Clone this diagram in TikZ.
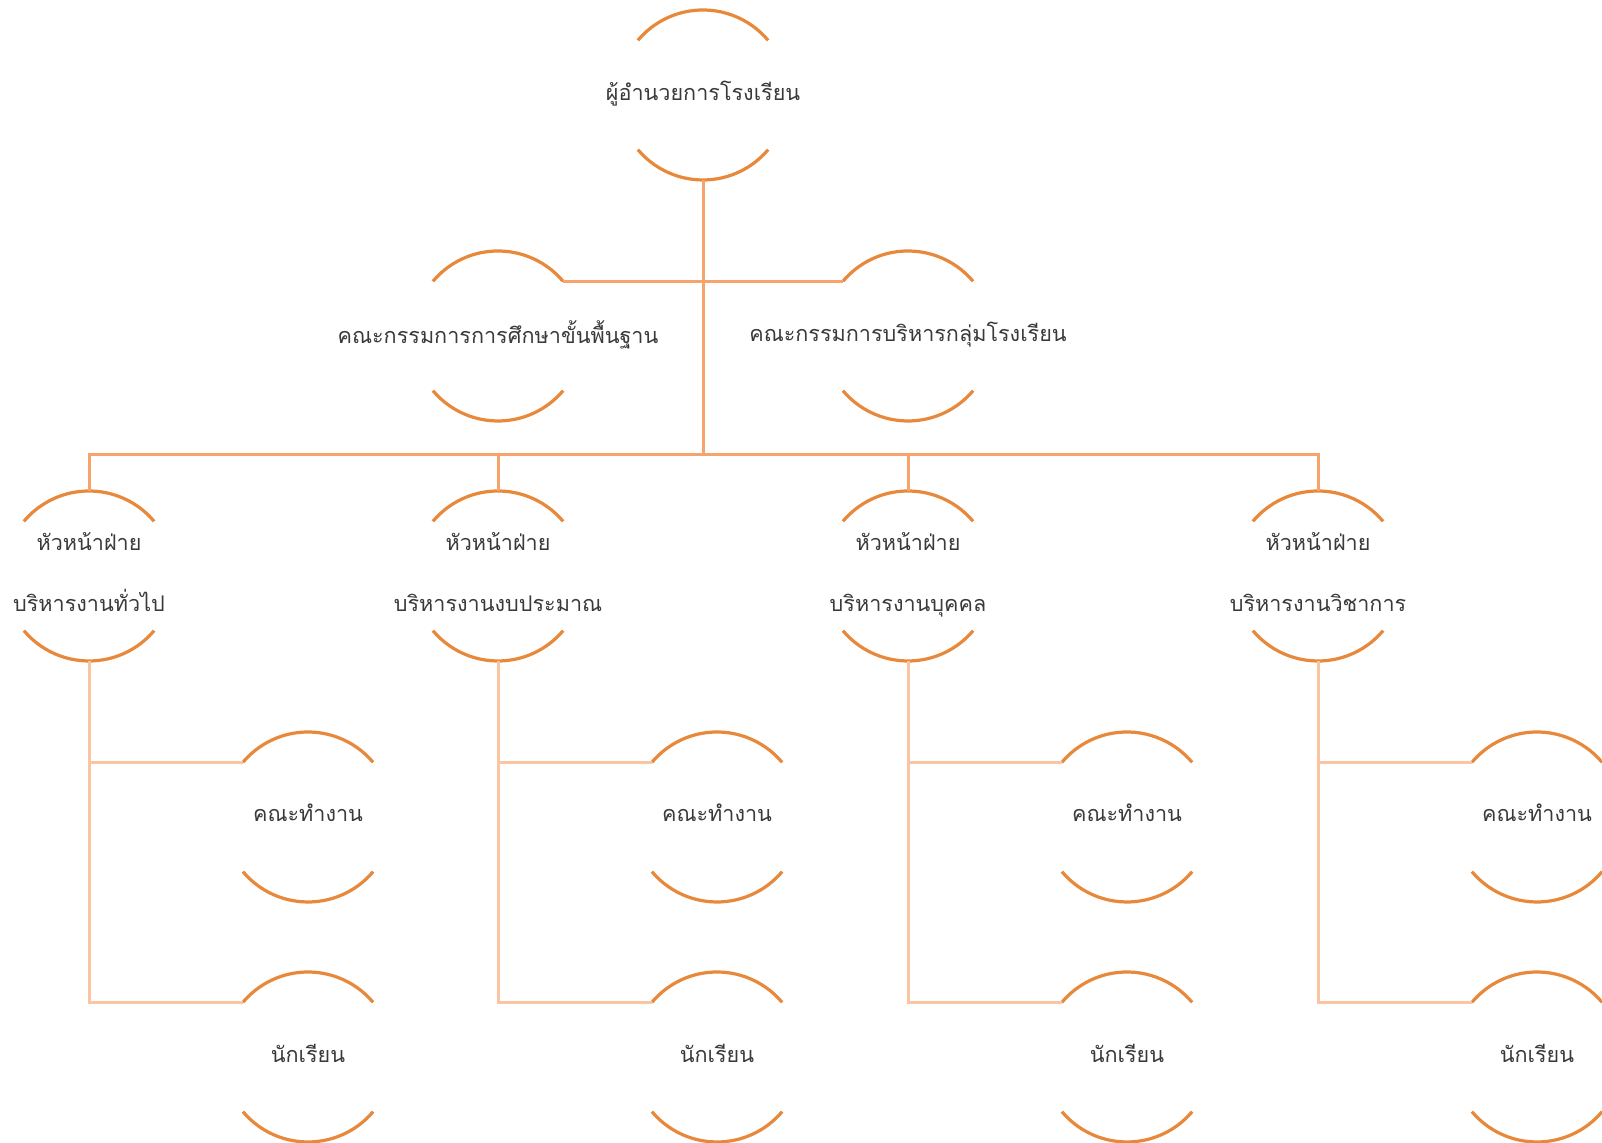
\documentclass[tikz,border=0pt]{standalone}
\usepackage{fontspec}
\newfontfamily\thaifont[Script=Thai]{Loma}
\definecolor{rimorange}{HTML}{E8883A}
\definecolor{linkorange}{HTML}{F6A46C}
\definecolor{linkpeach}{HTML}{FBC4A2}
\definecolor{captiongray}{HTML}{3A3A3A}
\newcommand{\nowide}[1]{\makebox[0pt]{\rule[-4pt]{0pt}{12pt}#1}}
\tikzset{
  unit/.style={circle, inner sep=0pt, outer sep=0pt, minimum size=85pt,
    align=center, text=captiongray, font=\thaifont\fontsize{10.8}{30.7}\selectfont},
  rim/.style={rimorange, line width=1.6pt},
  link/.style={linkorange, line width=1.5pt},
  sublink/.style={linkpeach, line width=1.5pt}
}
\begin{document}
\begin{tikzpicture}[x=0.5pt,y=0.5pt]
      \useasboundingbox (0,0) rectangle (1602,1143);
      \draw
        (703,1048) node[unit] (top){\nowide{ผู้อำนวยการโรงเรียน}}
        (498,807) node[unit] (c1){\nowide{คณะกรรมการการศึกษาขั้นพื้นฐาน}}
        (908,807) node[unit] (c2){\nowide{คณะกรรมการบริหารกลุ่มโรงเรียน}}
        (89,567) node[unit] (h1){\nowide{หัวหน้าฝ่าย}\\\nowide{บริหารงานทั่วไป}}
        (498,567) node[unit] (h2){\nowide{หัวหน้าฝ่าย}\\\nowide{บริหารงานงบประมาณ}}
        (908,567) node[unit] (h3){\nowide{หัวหน้าฝ่าย}\\\nowide{บริหารงานบุคคล}}
        (1318,567) node[unit] (h4){\nowide{หัวหน้าฝ่าย}\\\nowide{บริหารงานวิชาการ}}
        (308,326) node[unit] (t1){\nowide{คณะทำงาน}}
        (717,326) node[unit] (t2){\nowide{คณะทำงาน}}
        (1127,326) node[unit] (t3){\nowide{คณะทำงาน}}
        (1537,326) node[unit] (t4){\nowide{คณะทำงาน}}
        (308,86) node[unit] (s1){\nowide{นักเรียน}}
        (717,86) node[unit] (s2){\nowide{นักเรียน}}
        (1127,86) node[unit] (s3){\nowide{นักเรียน}}
        (1537,86) node[unit] (s4){\nowide{นักเรียน}};
      \coordinate (bus) at (703,688);
      % open circles: only the top and bottom arcs
      \foreach \n in {top,c1,c2,h1,h2,h3,h4,t1,t2,t3,t4,s1,s2,s3,s4} {
        \draw[rim] (\n.40) arc[start angle=40, end angle=140, radius=42.5pt];
        \draw[rim] (\n.220) arc[start angle=220, end angle=320, radius=42.5pt];
      }
      \begin{scope}[link]
        \draw (top.south) to (bus);
        \draw (c1.40) to (c2.140);
        \draw (h1.north) -- (h1.north |- bus) -- (h4.north |- bus) -- (h4.north);
        \draw (h2.north) to (h2.north |- bus);
        \draw (h3.north) to (h3.north |- bus);
      \end{scope}
      \begin{scope}[sublink]
        \foreach \k in {1,...,4} {
          \draw (h\k.south) |- (s\k.140);
          \draw (h\k.south |- t\k.140) to (t\k.140);
        }
      \end{scope}
    \end{tikzpicture}
\end{document}
